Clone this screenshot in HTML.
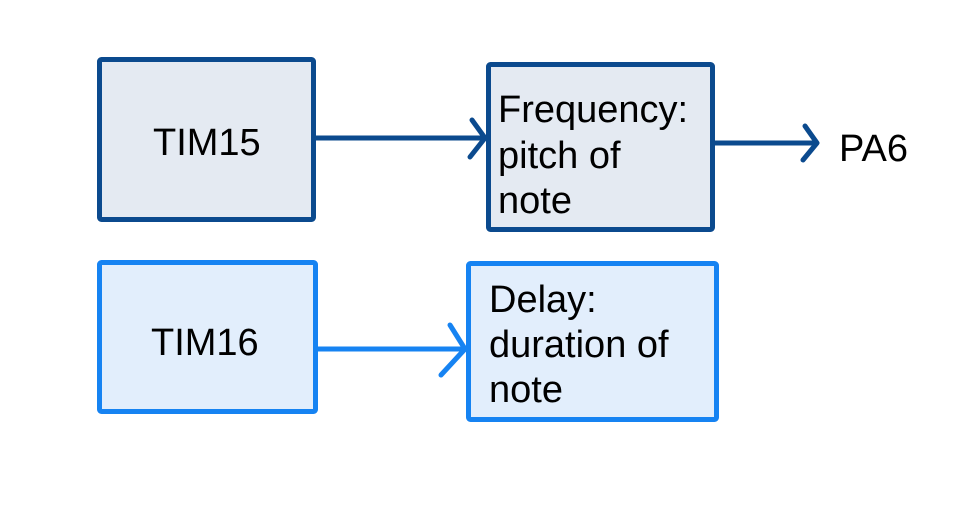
<!DOCTYPE html>
<html><head><meta charset="utf-8"><style>
html,body{margin:0;padding:0;background:#fff;}
svg{display:block;}
text{font-family:"Liberation Sans",Arial,sans-serif;font-size:38px;fill:#000;}
</style></head><body>
<svg width="965" height="505" viewBox="0 0 965 505" xmlns="http://www.w3.org/2000/svg">
<rect x="0" y="0" width="965" height="505" fill="#fff"/>
<g stroke-linejoin="round" stroke-linecap="round">
<rect x="99.5" y="59.5" width="214" height="160" rx="2" fill="#e4eaf2" stroke="#0b4a8e" stroke-width="5"/>
<rect x="488.5" y="64.5" width="224" height="165" rx="2" fill="#e4eaf2" stroke="#0b4a8e" stroke-width="5"/>
<rect x="99.5" y="262.5" width="216" height="149" rx="2" fill="#e2eefc" stroke="#1683f2" stroke-width="5"/>
<rect x="468.5" y="263.5" width="248" height="156" rx="2" fill="#e2eefc" stroke="#1683f2" stroke-width="5"/>
<line x1="316" y1="138" x2="484" y2="138" stroke="#0b4a8e" stroke-width="5"/>
<polyline points="472,120 485,138 470,157" fill="none" stroke="#0b4a8e" stroke-width="5"/>
<line x1="714" y1="143" x2="816" y2="143" stroke="#0b4a8e" stroke-width="5"/>
<polyline points="805,126 817,143 803,160" fill="none" stroke="#0b4a8e" stroke-width="5"/>
<line x1="318" y1="349" x2="464" y2="349" stroke="#1683f2" stroke-width="5"/>
<polyline points="450,325 465,349 441,375" fill="none" stroke="#1683f2" stroke-width="5"/>
</g>
<text x="153" y="155">TIM15</text>
<text x="151" y="355">TIM16</text>
<text x="498" y="122">Frequency:</text>
<text x="498" y="168">pitch of</text>
<text x="498" y="213">note</text>
<text x="489" y="312">Delay:</text>
<text x="489" y="357">duration of</text>
<text x="489" y="402">note</text>
<text x="839" y="161">PA6</text>
</svg>
</body></html>
